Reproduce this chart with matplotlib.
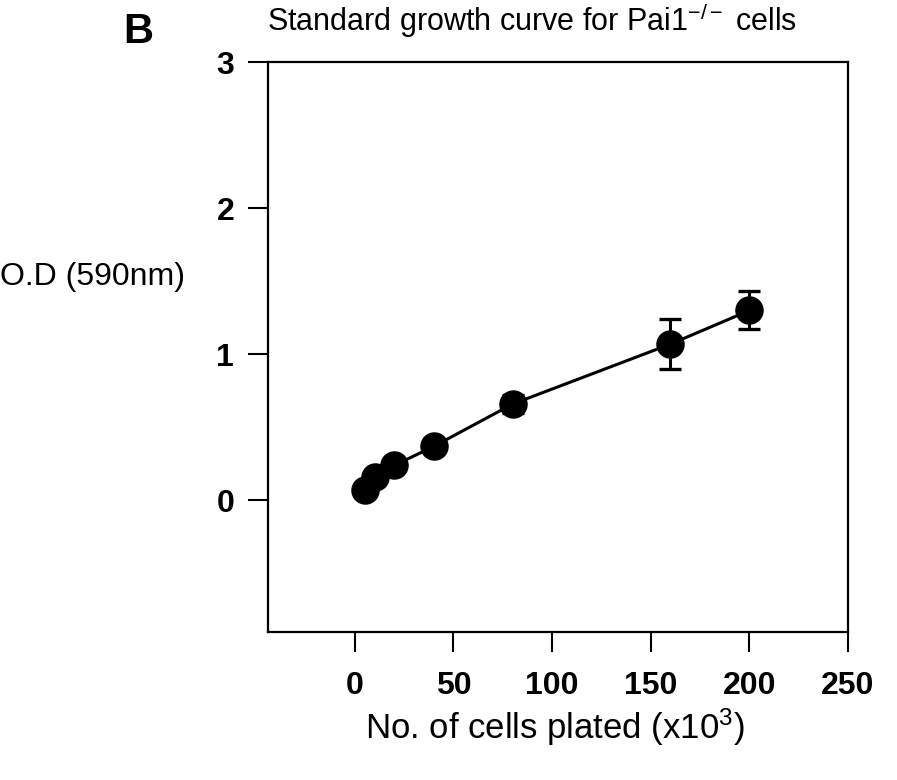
import numpy as np
import matplotlib
matplotlib.use("Agg")
import matplotlib.pyplot as plt

plt.rcParams['font.family'] = ['Liberation Sans', 'DejaVu Sans']
plt.rcParams['mathtext.fontset'] = 'custom'
plt.rcParams['mathtext.rm'] = 'Liberation Sans'
plt.rcParams['mathtext.it'] = 'Liberation Sans'

# cells plated (x10^3) vs optical density at 590 nm
cells = [5, 10, 20, 40, 80, 160, 200]
od = [0.07, 0.16, 0.24, 0.37, 0.66, 1.07, 1.30]
od_err = [0.02, 0.03, 0.02, 0.03, 0.06, 0.17, 0.13]

xticks = [0, 50, 100, 150, 200, 250]
yticks = [0, 1, 2, 3]

fig = plt.figure(figsize=(8.97, 7.8), dpi=100)
ax = fig.add_axes([0.2988, 0.1897, 0.6466, 0.7308])

ax.errorbar(cells, od, yerr=od_err, color='black', linewidth=2.2,
            marker='o', markersize=19.5, elinewidth=2.2, capsize=8, capthick=2.4)

ax.set_xlim(-44, 250)
ax.set_ylim(-0.9, 3)
ax.set_xticks(xticks)
ax.set_yticks(yticks)
ax.tick_params(direction='out', length=14.4, width=1.5, labelsize=23)
ax.tick_params(axis='x', pad=14)
ax.tick_params(axis='y', pad=10)
for lbl in ax.get_xticklabels() + ax.get_yticklabels():
    lbl.set_fontweight('bold')
for s in ax.spines.values():
    s.set_linewidth(1.6)

fig.text(0.619, 0.068, 'No. of cells plated (x10$^3$)', fontsize=25,
         ha='center', va='center')
fig.text(0.0, 0.645, 'O.D (590nm)', fontsize=23, va='center', ha='left')
fig.text(0.154, 0.959, 'B', fontsize=30, fontweight='bold', ha='center', va='center')
fig.text(0.593, 0.999, 'Standard growth curve for Pai1$^{-/-}$ cells', fontsize=22,
         ha='center', va='top')

fig.savefig('out.png', dpi=100)
